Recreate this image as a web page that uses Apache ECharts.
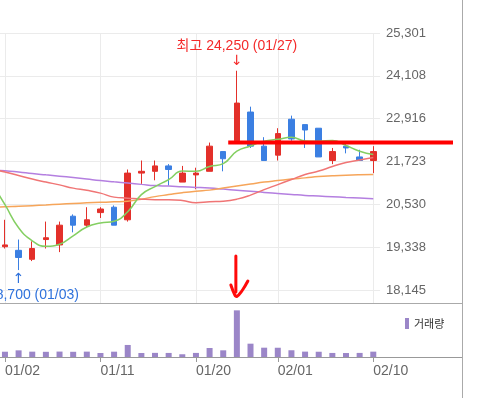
<!DOCTYPE html>
<html>
<head>
<meta charset="utf-8">
<script src="https://cdn.jsdelivr.net/npm/echarts@6/dist/echarts.min.js"></script>
<style>
    html, body { margin: 0; padding: 0; background: #fff; }
    #chart { width: 477px; height: 398px; }
</style>
</head>
<body>
<div id="chart"></div>
<script>
// 날짜 (12/29 는 왼쪽으로 잘려 나간 전 거래일)
var dates = ['12/29', '01/02', '01/03', '01/04', '01/05', '01/06', '01/09', '01/10', '01/11', '01/12',
    '01/13', '01/16', '01/17', '01/18', '01/19', '01/20', '01/25', '01/26', '01/27', '01/30',
    '01/31', '02/01', '02/02', '02/03', '02/06', '02/07', '02/08', '02/09', '02/10'];
var tickDates = ['01/02', '01/11', '01/20', '02/01', '02/10'];

// 시가, 종가, 저가, 고가
var candles = ['-',
    [19350, 19400, 19300, 20100], [19250, 19050, 18700, 19550], [19000, 19300, 18950, 19500],
    [19550, 19600, 19300, 20050], [19400, 19950, 19200, 20050], [20200, 19950, 19750, 20250],
    [19950, 20100, 19900, 20450], [20300, 20400, 20150, 20450], [20450, 19950, 19950, 20500],
    [20100, 21400, 20050, 21500], [21400, 21450, 21100, 21750], [21450, 21600, 21200, 21750],
    [21600, 21500, 21050, 21650], [21150, 21400, 21150, 21600], [21350, 21400, 20950, 21550],
    [21450, 22150, 21450, 22250], [22000, 21800, 21450, 22000], [22300, 23350, 22250, 24250],
    [23100, 22150, 22100, 23250], [22150, 21750, 21750, 22400], [21900, 22500, 21750, 22650],
    [22900, 22350, 22300, 23000], [22750, 22600, 22100, 22750], [22650, 21850, 21850, 22650],
    [21750, 22000, 21650, 22100], [22150, 22100, 21950, 22250], [21850, 21750, 21750, 22050],
    [21750, 22000, 21400, 22150]];

// 이동평균선
var ma5 = [21140, 20520, 19880, 19515, 19360, 19420, 19655, 19900, 20010, 20060, 20325, 20800, 21025, 21220,
    21455, 21450, 21585, 21665, 22010, 22155, 22290, 22340, 22400, 22295, 22290, 22310, 22170, 22010, 21920];
var ma20 = [21513, 21430, 21332, 21234, 21150, 21072, 20982, 20921, 20843, 20731, 20703, 20675, 20661, 20661,
    20638, 20577, 20605, 20619, 20675, 20787, 20940, 21080, 21220, 21360, 21457, 21583, 21695, 21765, 21835];
var ma60 = [20443, 20462, 20476, 20493, 20513, 20535, 20555, 20571, 20585, 20599, 20619, 20675, 20745, 20801,
    20856, 20898, 20926, 20982, 21038, 21094, 21150, 21192, 21234, 21267, 21304, 21326, 21343, 21354, 21360];
var ma120 = [21494, 21463, 21430, 21388, 21351, 21315, 21276, 21234, 21192, 21156, 21122, 21086, 21052, 21038,
    21019, 21002, 20982, 20954, 20924, 20896, 20862, 20834, 20806, 20778, 20761, 20742, 20722, 20706, 20689];

// 거래량
var volumes = ['-', 52800, 66500, 53400, 51900, 54200, 52100, 53700, 40200, 53100, 120400, 39800, 41300,
    40600, 27500, 40900, 90300, 66800, 466500, 133200, 93100, 92600, 67400, 53800, 52600, 40500, 39700,
    40800, 53500];

// 가격축 눈금 (최저 / 최고)
var priceMin = 18145;
var priceMax = 25301;
var volumeMax = 540000;
// 빨간 선으로 표시된 가격
var levelPrice = 22250;

var red = '#e3302a', blue = '#3b7fe2';
var font = '"Liberation Sans", Arial, "Noto Sans CJK KR", sans-serif';
var arrowFont = '"DejaVu Sans", sans-serif';

function comma(v) {
    return String(Math.round(v)).replace(/\B(?=(\d{3})+(?!\d))/g, ',');
}
function isTick(idx, val) {
    return tickDates.indexOf(val) >= 0;
}

// 최고 / 최저
var hiIdx = 1, loIdx = 1;
for (var i = 1; i < candles.length; i++) {
    if (candles[i][3] > candles[hiIdx][3]) hiIdx = i;
    if (candles[i][2] < candles[loIdx][2]) loIdx = i;
}
var hiVal = candles[hiIdx][3], loVal = candles[loIdx][2];

var chart = echarts.init(document.getElementById('chart'));
var gl = -15.5, gw = 395.6;

var frame = [
    { type: 'line', shape: { x1: 0, y1: 303.5, x2: 462, y2: 303.5 }, style: { stroke: '#aaa', lineWidth: 1 } },
    { type: 'line', shape: { x1: 0, y1: 357.5, x2: 462, y2: 357.5 }, style: { stroke: '#999', lineWidth: 1 } },
    { type: 'line', shape: { x1: 462.5, y1: 0, x2: 462.5, y2: 398 }, style: { stroke: '#aaa', lineWidth: 1 } }
];

var option = {
    animation: false,
    backgroundColor: '#fff',
    textStyle: { fontFamily: font },
    grid: [
        { left: gl, width: gw, top: 33, height: 257, outerBoundsMode: 'none' },
        { left: gl, width: gw, top: 33, height: 270, outerBoundsMode: 'none' },
        { left: gl, width: gw, top: 303, height: 54, outerBoundsMode: 'none' }
    ],
    legend: {
        data: ['거래량'],
        left: 400,
        top: 313,
        icon: 'rect',
        itemWidth: 4,
        itemHeight: 11,
        textStyle: { fontSize: 11, color: '#333', fontFamily: 'Noto Sans CJK KR' }
    },
    xAxis: [{
        type: 'category', gridIndex: 0, data: dates,
        axisLine: { show: false }, axisTick: { show: false }, axisLabel: { show: false }, splitLine: { show: false }
    }, {
        type: 'category', gridIndex: 1, data: dates, min: 0, max: dates.length - 1,
        axisLine: { show: false }, axisTick: { show: false }, axisLabel: { show: false },
        splitLine: { show: true, interval: isTick, alignWithLabel: true, lineStyle: { color: '#ebebeb' } }
    }, {
        type: 'category', gridIndex: 2, data: dates,
        axisLine: { show: false },
        axisTick: { show: true, interval: isTick, alignWithLabel: true, length: 5, lineStyle: { color: '#999' } },
        axisLabel: { interval: isTick, align: 'left', margin: 7, color: '#666', fontSize: 14 },
        splitLine: { show: false }
    }],
    yAxis: [{
        type: 'value', gridIndex: 0, position: 'right',
        min: priceMin, max: priceMax, interval: (priceMax - priceMin) / 6,
        axisLine: { show: false }, axisTick: { show: false },
        axisLabel: { formatter: comma, color: '#666', fontSize: 13, margin: 6 },
        splitLine: { lineStyle: { color: '#ebebeb' } }
    }, {
        type: 'value', gridIndex: 1, min: 0, max: 1, show: false
    }, {
        type: 'value', gridIndex: 2, min: 0, max: volumeMax, show: false
    }],
    series: [{
        name: 'MA120', type: 'line', data: ma120, smooth: true, symbol: 'none',
        lineStyle: { color: '#b47fe0', width: 1.5 }
    }, {
        name: 'MA60', type: 'line', data: ma60, smooth: true, symbol: 'none',
        lineStyle: { color: '#f6a55a', width: 1.5 }
    }, {
        name: 'MA20', type: 'line', data: ma20, smooth: true, symbol: 'none',
        lineStyle: { color: '#f07575', width: 1.5 }
    }, {
        name: 'MA5', type: 'line', data: ma5, smooth: true, symbol: 'none',
        lineStyle: { color: '#84cf62', width: 1.5 }
    }, {
        name: '주가', type: 'candlestick', data: candles, barWidth: 6,
        itemStyle: { color: red, color0: blue, borderColor: red, borderColor0: blue, borderWidth: 1 },
        markPoint: {
            symbol: 'rect',
            symbolSize: 1,
            itemStyle: { color: 'rgba(0,0,0,0)' },
            data: [{
                coord: [dates[hiIdx], hiVal],
                label: {
                    show: true, position: 'top', distance: 2,
                    formatter: '{t|최고 ' + comma(hiVal) + ' (' + dates[hiIdx] + ')}\n{a|↓}',
                    rich: {
                        t: { color: '#f42a2a', fontSize: 14, lineHeight: 17, fontFamily: font },
                        a: { color: '#f42a2a', fontSize: 14, lineHeight: 14, fontFamily: arrowFont }
                    }
                }
            }, {
                coord: [dates[loIdx], loVal],
                label: {
                    show: true, position: 'bottom', distance: 2,
                    formatter: '{a|↑}\n{t|최저 ' + comma(loVal) + ' (' + dates[loIdx] + ')}',
                    rich: {
                        t: { color: '#2f72dc', fontSize: 14, lineHeight: 17, fontFamily: font },
                        a: { color: '#2f72dc', fontSize: 14, lineHeight: 14, fontFamily: arrowFont }
                    }
                }
            }]
        }
    }, {
        name: '거래량', type: 'bar', xAxisIndex: 2, yAxisIndex: 2, data: volumes, barWidth: 6,
        itemStyle: { color: '#9b86c8' }
    }],
    graphic: frame
};
chart.setOption(option);

// 손으로 그린 표시 (빨간 가로선, 화살표)
var lvY = chart.convertToPixel({ yAxisIndex: 0 }, levelPrice);
var hx = chart.convertToPixel({ xAxisIndex: 0 }, dates[hiIdx]);
var px = chart.convertToPixel({ xAxisIndex: 0 }, dates[hiIdx - 1]);
chart.setOption({
    graphic: frame.concat([
        { type: 'line', z: 100, shape: { x1: px + 5, y1: lvY, x2: 453, y2: lvY }, style: { stroke: '#ff0000', lineWidth: 4 } },
        { type: 'polyline', z: 100, shape: { points: [[hx - 1, 256], [hx - 1, 292]] },
            style: { stroke: '#ff0a0a', lineWidth: 3, lineCap: 'round', fill: null } },
        { type: 'polyline', z: 100, shape: { smooth: 0.4, points: [[hx - 6, 285], [hx - 2, 295], [hx, 296.5], [hx + 5, 291], [hx + 11, 281]] },
            style: { stroke: '#ff0a0a', lineWidth: 3, lineCap: 'round', lineJoin: 'round', fill: null } }
    ])
});
</script>
</body>
</html>
